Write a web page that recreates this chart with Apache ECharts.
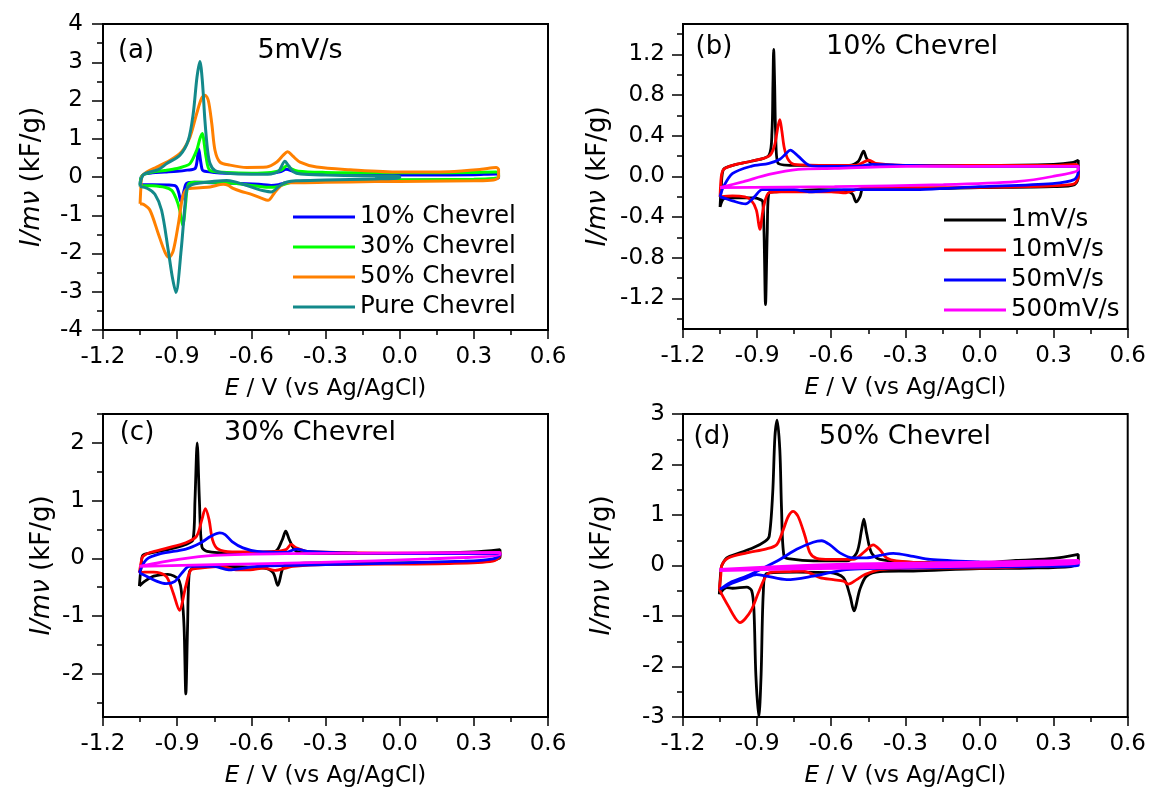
<!DOCTYPE html>
<html><head><meta charset="utf-8">
<script src="https://cdn.jsdelivr.net/npm/echarts@6/dist/echarts.min.js"></script>
<style>html,body{margin:0;padding:0;background:#fff}#c{width:1149px;height:789px}</style>
</head><body><div id="c"></div>
<script>
// ---------- tick labels ----------
const xTicks = [-1.2,-0.9,-0.6,-0.3,0,0.3,0.6];
const yTicksA = [-4,-3,-2,-1,0,1,2,3,4];
const yMinorA = [-3.5,-2.5,-1.5,-0.5,0.5,1.5,2.5,3.5];
const yTicksB = [-1.2,-0.8,-0.4,0,0.4,0.8,1.2];
const yMinorB = [-1.4,-1.0,-0.6,-0.2,0.2,0.6,1.0,1.4];
const yTicksC = [-2,-1,0,1,2];
const yMinorC = [-2.5,-1.5,-0.5,0.5,1.5,2.5];
const yTicksD = [-3,-2,-1,0,1,2,3];
const yMinorD = [-2.5,-1.5,-0.5,0.5,1.5,2.5];

// ---------- categories / legends ----------
const namesA = ['10% Chevrel','30% Chevrel','50% Chevrel','Pure Chevrel'];
const namesRate = ['1mV/s','10mV/s','50mV/s','500mV/s'];

// ---------- panel (a): 5 mV/s, E (V) vs I/mν (kF/g) ----------
const a10 = [[-1.05,-0.2],[-1.045,0.0],[-1.03,0.08],[-1.0,0.11],[-0.95,0.13],[-0.9,0.15],[-0.86,0.18],[-0.828,0.22],[-0.82,0.4],[-0.813,0.74],[-0.806,0.45],[-0.8,0.22],[-0.794,0.16],[-0.75,0.12],[-0.7,0.1],[-0.6,0.09],[-0.52,0.1],[-0.48,0.14],[-0.46,0.2],[-0.43,0.15],[-0.4,0.1],[-0.3,0.07],[-0.1,0.05],[0.1,0.05],[0.3,0.06],[0.39,0.08],[0.4,0.05],
  [0.4,-0.02],[0.38,-0.05],[0.3,-0.07],[0.1,-0.08],[-0.1,-0.09],[-0.3,-0.1],[-0.42,-0.12],[-0.46,-0.15],[-0.49,-0.2],[-0.52,-0.22],[-0.55,-0.2],[-0.65,-0.17],[-0.75,-0.15],[-0.83,-0.14],[-0.862,-0.17],[-0.872,-0.35],[-0.884,-0.66],[-0.894,-0.4],[-0.905,-0.24],[-0.94,-0.21],[-1.0,-0.2],[-1.05,-0.2]];
const a30 = [[-1.05,-0.22],[-1.045,0.0],[-1.03,0.08],[-1.0,0.13],[-0.95,0.17],[-0.9,0.22],[-0.875,0.27],[-0.848,0.35],[-0.821,0.7],[-0.808,1.0],[-0.798,1.14],[-0.79,0.85],[-0.783,0.52],[-0.767,0.17],[-0.7,0.12],[-0.6,0.1],[-0.52,0.12],[-0.48,0.18],[-0.455,0.3],[-0.44,0.22],[-0.41,0.15],[-0.3,0.12],[-0.1,0.11],[0.1,0.11],[0.3,0.12],[0.39,0.13],[0.4,0.1],
  [0.4,0.0],[0.38,-0.04],[0.3,-0.06],[0.1,-0.07],[-0.1,-0.08],[-0.3,-0.1],[-0.42,-0.12],[-0.46,-0.18],[-0.5,-0.26],[-0.53,-0.27],[-0.6,-0.22],[-0.66,-0.17],[-0.75,-0.14],[-0.83,-0.14],[-0.855,-0.2],[-0.866,-0.7],[-0.872,-1.1],[-0.877,-1.27],[-0.883,-1.1],[-0.89,-0.85],[-0.905,-0.55],[-0.922,-0.35],[-0.95,-0.27],[-1.0,-0.23],[-1.05,-0.22]];
const a50 = [[-1.05,-0.7],[-1.047,-0.3],[-1.043,0.0],[-1.023,0.13],[-0.983,0.26],[-0.929,0.44],[-0.882,0.66],[-0.848,1.05],[-0.821,1.66],[-0.801,2.06],[-0.787,2.14],[-0.774,2.0],[-0.76,1.4],[-0.747,0.7],[-0.727,0.39],[-0.686,0.31],[-0.619,0.25],[-0.538,0.26],[-0.497,0.39],[-0.471,0.57],[-0.453,0.66],[-0.433,0.55],[-0.403,0.39],[-0.336,0.26],[-0.2,0.19],[0.0,0.13],[0.2,0.14],[0.33,0.2],[0.39,0.25],[0.4,0.2],
  [0.4,0.0],[0.38,-0.08],[0.3,-0.1],[0.1,-0.11],[-0.1,-0.12],[-0.3,-0.14],[-0.42,-0.15],[-0.461,-0.15],[-0.484,-0.25],[-0.504,-0.39],[-0.533,-0.61],[-0.56,-0.55],[-0.605,-0.44],[-0.64,-0.38],[-0.674,-0.3],[-0.693,-0.22],[-0.713,-0.19],[-0.767,-0.26],[-0.808,-0.28],[-0.85,-0.3],[-0.864,-0.33],[-0.878,-0.52],[-0.895,-1.22],[-0.916,-1.93],[-0.933,-2.1],[-0.949,-1.97],[-0.976,-1.49],[-1.01,-0.87],[-1.035,-0.72],[-1.05,-0.7]];
const aPure = [[-1.05,-0.25],[-1.045,-0.05],[-1.035,0.07],[-1.01,0.13],[-0.975,0.2],[-0.942,0.35],[-0.889,0.57],[-0.855,0.96],[-0.835,1.66],[-0.82,2.6],[-0.808,3.02],[-0.798,2.5],[-0.788,1.5],[-0.777,0.7],[-0.767,0.35],[-0.747,0.17],[-0.7,0.1],[-0.6,0.07],[-0.52,0.08],[-0.49,0.15],[-0.464,0.41],[-0.45,0.3],[-0.43,0.14],[-0.4,0.08],[-0.3,0.05],[-0.15,0.03],[0.0,0.02],
  [0.0,-0.02],[-0.1,-0.05],[-0.3,-0.08],[-0.42,-0.1],[-0.455,-0.13],[-0.484,-0.22],[-0.52,-0.39],[-0.55,-0.36],[-0.578,-0.31],[-0.634,-0.19],[-0.67,-0.12],[-0.7,-0.09],[-0.75,-0.11],[-0.8,-0.15],[-0.84,-0.2],[-0.86,-0.3],[-0.868,-0.7],[-0.884,-1.92],[-0.905,-3.02],[-0.92,-2.6],[-0.936,-1.92],[-0.963,-0.87],[-0.99,-0.45],[-1.02,-0.3],[-1.05,-0.25]];

// ---------- panel (b): 10% Chevrel ----------
const b1 = [[-1.05,-0.3],[-1.045,-0.1],[-1.036,0.07],[-0.999,0.11],[-0.925,0.15],[-0.852,0.21],[-0.84,0.43],[-0.836,0.9],[-0.833,1.25],[-0.829,0.9],[-0.825,0.43],[-0.815,0.13],[-0.734,0.11],[-0.6,0.11],[-0.528,0.11],[-0.49,0.15],[-0.469,0.25],[-0.455,0.17],[-0.425,0.12],[-0.3,0.11],[0.0,0.11],[0.3,0.12],[0.38,0.14],[0.4,0.16],
  [0.4,0.0],[0.385,-0.08],[0.3,-0.1],[0.0,-0.11],[-0.26,-0.12],[-0.4,-0.12],[-0.469,-0.11],[-0.484,-0.2],[-0.499,-0.25],[-0.515,-0.17],[-0.55,-0.14],[-0.65,-0.13],[-0.822,-0.15],[-0.852,-0.16],[-0.859,-0.55],[-0.866,-1.26],[-0.872,-0.55],[-0.877,-0.25],[-0.884,-0.23],[-0.911,-0.21],[-1.0,-0.21],[-1.035,-0.22],[-1.05,-0.3]];
const b10 = [[-1.05,-0.2],[-1.045,0.0],[-1.036,0.07],[-0.999,0.11],[-0.925,0.15],[-0.852,0.2],[-0.83,0.3],[-0.815,0.5],[-0.808,0.56],[-0.8,0.45],[-0.79,0.28],[-0.775,0.17],[-0.75,0.12],[-0.6,0.11],[-0.5,0.11],[-0.447,0.16],[-0.42,0.13],[-0.3,0.11],[0.0,0.11],[0.3,0.11],[0.39,0.12],[0.4,0.1],
  [0.4,0.0],[0.39,-0.06],[0.37,-0.08],[0.2,-0.1],[-0.2,-0.11],[-0.45,-0.11],[-0.5,-0.13],[-0.54,-0.16],[-0.6,-0.15],[-0.65,-0.15],[-0.8,-0.15],[-0.852,-0.16],[-0.874,-0.3],[-0.889,-0.52],[-0.903,-0.33],[-0.925,-0.23],[-0.95,-0.2],[-1.0,-0.19],[-1.05,-0.2]];
const b50 = [[-1.05,-0.2],[-1.036,-0.1],[-0.999,0.03],[-0.925,0.1],[-0.852,0.13],[-0.808,0.17],[-0.785,0.22],[-0.766,0.26],[-0.734,0.2],[-0.69,0.11],[-0.65,0.1],[-0.5,0.1],[-0.43,0.12],[-0.3,0.11],[0.0,0.1],[0.3,0.1],[0.4,0.1],
  [0.4,0.05],[0.384,-0.03],[0.295,-0.07],[0.0,-0.1],[-0.3,-0.13],[-0.45,-0.13],[-0.55,-0.13],[-0.69,-0.15],[-0.75,-0.13],[-0.85,-0.13],[-0.88,-0.13],[-0.911,-0.2],[-0.947,-0.27],[-0.999,-0.24],[-1.036,-0.21],[-1.05,-0.2]];
const b500 = [[-1.05,-0.11],[-0.955,-0.05],[-0.852,0.02],[-0.734,0.07],[-0.587,0.08],[-0.293,0.1],[0.0,0.1],[0.4,0.1],
  [0.4,0.07],[0.295,0.0],[0.149,-0.05],[-0.146,-0.08],[-0.587,-0.1],[-1.05,-0.11]];

// ---------- panel (c): 30% Chevrel ----------
const c1 = [[-1.053,-0.48],[-1.045,-0.1],[-1.039,0.05],[-1.01,0.09],[-0.938,0.15],[-0.865,0.24],[-0.836,0.32],[-0.828,1.0],[-0.819,2.0],[-0.81,1.0],[-0.8,0.2],[-0.779,0.12],[-0.678,0.09],[-0.504,0.12],[-0.475,0.32],[-0.461,0.47],[-0.446,0.32],[-0.418,0.12],[-0.317,0.08],[0.0,0.08],[0.3,0.11],[0.406,0.15],
  [0.406,0.02],[0.333,-0.05],[0.0,-0.08],[-0.317,-0.08],[-0.461,-0.11],[-0.475,-0.2],[-0.493,-0.47],[-0.512,-0.25],[-0.548,-0.17],[-0.75,-0.14],[-0.836,-0.17],[-0.851,-0.25],[-0.858,-1.2],[-0.865,-2.35],[-0.872,-1.2],[-0.88,-0.7],[-0.894,-0.37],[-0.938,-0.28],[-0.995,-0.31],[-1.032,-0.4],[-1.053,-0.48]];
const c10 = [[-1.053,-0.25],[-1.045,-0.05],[-1.039,0.03],[-1.01,0.1],[-0.938,0.18],[-0.865,0.27],[-0.822,0.38],[-0.8,0.67],[-0.786,0.86],[-0.771,0.67],[-0.757,0.32],[-0.735,0.16],[-0.678,0.11],[-0.5,0.12],[-0.46,0.15],[-0.439,0.24],[-0.418,0.18],[-0.374,0.12],[0.0,0.09],[0.3,0.09],[0.406,0.1],
  [0.406,0.05],[0.377,-0.05],[0.2,-0.09],[-0.3,-0.11],[-0.432,-0.14],[-0.461,-0.17],[-0.504,-0.21],[-0.548,-0.17],[-0.605,-0.2],[-0.663,-0.2],[-0.721,-0.14],[-0.808,-0.17],[-0.844,-0.2],[-0.865,-0.48],[-0.891,-0.9],[-0.916,-0.6],[-0.945,-0.31],[-0.995,-0.24],[-1.032,-0.24],[-1.053,-0.25]];
const c50 = [[-1.053,-0.25],[-1.024,-0.02],[-0.967,0.08],[-0.865,0.16],[-0.808,0.26],[-0.764,0.38],[-0.728,0.44],[-0.706,0.41],[-0.678,0.29],[-0.634,0.18],[-0.577,0.12],[-0.461,0.1],[-0.418,0.16],[-0.374,0.12],[-0.172,0.09],[0.262,0.08],[0.406,0.08],
  [0.406,0.06],[0.377,-0.01],[0.262,-0.05],[-0.3,-0.11],[-0.577,-0.14],[-0.692,-0.2],[-0.75,-0.14],[-0.851,-0.14],[-0.88,-0.25],[-0.909,-0.4],[-0.945,-0.44],[-0.981,-0.4],[-1.024,-0.31],[-1.053,-0.25]];
const c500 = [[-1.053,-0.14],[-0.894,-0.02],[-0.75,0.05],[-0.461,0.08],[0.406,0.1],
  [0.406,0.06],[0.117,-0.01],[-0.317,-0.07],[-0.75,-0.11],[-1.053,-0.14]];

// ---------- panel (d): 50% Chevrel ----------
const d1 = [[-1.053,-0.57],[-1.047,-0.1],[-1.043,0.0],[-1.023,0.15],[-0.976,0.24],[-0.916,0.35],[-0.868,0.48],[-0.851,0.58],[-0.837,1.43],[-0.828,2.55],[-0.819,2.88],[-0.808,2.28],[-0.801,1.1],[-0.791,0.18],[-0.767,0.13],[-0.673,0.09],[-0.538,0.09],[-0.497,0.25],[-0.477,0.71],[-0.468,0.92],[-0.457,0.64],[-0.437,0.25],[-0.403,0.12],[-0.268,0.06],[0.0,0.05],[0.147,0.1],[0.3,0.14],[0.4,0.22],
  [0.4,0.05],[0.37,-0.02],[0.2,-0.05],[0.0,-0.06],[-0.268,-0.11],[-0.403,-0.12],[-0.457,-0.21],[-0.484,-0.47],[-0.508,-0.9],[-0.524,-0.6],[-0.551,-0.24],[-0.605,-0.14],[-0.74,-0.13],[-0.862,-0.16],[-0.875,-0.54],[-0.884,-2.18],[-0.893,-3.0],[-0.905,-2.18],[-0.913,-0.87],[-0.922,-0.5],[-0.942,-0.43],[-1.0,-0.45],[-1.023,-0.44],[-1.053,-0.57]];
const d10 = [[-1.053,-0.47],[-1.047,-0.2],[-1.043,0.0],[-1.017,0.15],[-0.942,0.25],[-0.862,0.33],[-0.821,0.41],[-0.794,0.71],[-0.774,0.97],[-0.754,1.07],[-0.734,0.97],[-0.706,0.58],[-0.686,0.25],[-0.659,0.14],[-0.605,0.12],[-0.511,0.12],[-0.464,0.28],[-0.43,0.41],[-0.403,0.31],[-0.376,0.15],[-0.336,0.09],[-0.2,0.05],[0.0,0.05],[0.2,0.05],[0.35,0.06],[0.4,0.08],
  [0.4,0.06],[0.35,0.01],[0.2,-0.02],[0.0,-0.05],[-0.2,-0.05],[-0.403,-0.08],[-0.464,-0.18],[-0.497,-0.28],[-0.531,-0.37],[-0.55,-0.31],[-0.592,-0.28],[-0.646,-0.24],[-0.686,-0.15],[-0.713,-0.11],[-0.767,-0.12],[-0.848,-0.14],[-0.868,-0.24],[-0.895,-0.54],[-0.922,-0.87],[-0.949,-1.06],[-0.969,-1.13],[-0.99,-1.03],[-1.017,-0.8],[-1.043,-0.57],[-1.053,-0.47]];
const d50 = [[-1.05,-0.47],[-1.01,-0.34],[-0.942,-0.21],[-0.875,-0.05],[-0.808,0.12],[-0.74,0.32],[-0.673,0.46],[-0.639,0.49],[-0.605,0.41],[-0.565,0.25],[-0.511,0.15],[-0.457,0.15],[-0.403,0.2],[-0.349,0.24],[-0.268,0.18],[-0.2,0.12],[0.0,0.07],[0.2,0.04],[0.4,0.02],
  [0.4,0.0],[0.2,-0.02],[0.0,-0.03],[-0.3,-0.05],[-0.45,-0.06],[-0.538,-0.08],[-0.605,-0.14],[-0.673,-0.21],[-0.78,-0.28],[-0.862,-0.21],[-0.902,-0.18],[-0.95,-0.26],[-1.01,-0.37],[-1.05,-0.47]];
const d500 = [[-1.053,-0.09],[-0.8,-0.03],[-0.5,0.02],[-0.2,0.04],[0.4,0.09],
  [0.4,0.06],[0.0,0.0],[-0.5,-0.04],[-0.8,-0.06],[-1.053,-0.09]];

// ---------- styling ----------
const F = 'DejaVu Sans';
const colA = ['#0000ff','#00ff00','#ff8000','#13898a'];
const colR = ['#000000','#ff0000','#0000ff','#ff00ff'];
const grids = [
  {left:103, top:24, width:445, height:306},
  {left:683, top:24, width:445, height:305},
  {left:103, top:414, width:445, height:304},
  {left:683, top:414, width:445, height:304}
].map(g => Object.assign(g, {show:true, borderColor:'#000', borderWidth:2, backgroundColor:'transparent'}));

const tickLine = {color:'#000', width:1.5};
function xAx(g){
  return {type:'value', gridIndex:g, min:-1.2, max:0.6, interval:0.3, position:'bottom',
    name:'{i|E} / V (vs Ag/AgCl)', nameLocation:'middle', nameGap:48,
    nameTextStyle:{fontFamily:F, fontSize:23, color:'#000', rich:{i:{fontFamily:F, fontSize:23, fontStyle:'italic', color:'#000'}}},
    axisLine:{show:true, onZero:false, lineStyle:{color:'#000', width:2}},
    axisTick:{show:true, inside:false, length:9, lineStyle:tickLine},
    minorTick:{show:true, splitNumber:2, length:5, lineStyle:tickLine},
    axisLabel:{formatter:v => v.toFixed(1), fontFamily:F, fontSize:23, color:'#000', margin:16, showMaxLabel:true, showMinLabel:true},
    splitLine:{show:false}, minorSplitLine:{show:false}};
}
function yAx(g, min, max, ticks, dec, gap, lm){
  return {type:'value', gridIndex:g, min, max, position:'left',
    name:'{i|I/mν} (kF/g)', nameLocation:'middle', nameGap:gap, nameRotate:90,
    nameTextStyle:{fontFamily:F, fontSize:26, color:'#000', rich:{i:{fontFamily:F, fontSize:26, fontStyle:'italic', color:'#000'}}},
    axisLine:{show:true, onZero:false, lineStyle:{color:'#000', width:2}},
    axisTick:{show:true, inside:false, length:11, customValues:ticks, lineStyle:tickLine},
    axisLabel:{customValues:ticks, formatter:v => v.toFixed(dec), fontFamily:F, fontSize:23, color:'#000', margin:lm},
    splitLine:{show:false}};
}
function yMin(g, min, max, vals){
  return {type:'value', gridIndex:g, min, max, position:'left', offset:0,
    axisLine:{show:false, onZero:false}, axisTick:{show:true, inside:false, length:6, customValues:vals, lineStyle:tickLine},
    axisLabel:{show:false}, splitLine:{show:false}};
}
function S(name, data, g, color, w){
  return {type:'line', name, data, xAxisIndex:g, yAxisIndex:g, color, symbol:'none', showSymbol:false,
    smooth:0.3, clip:true, lineStyle:{color, width:w}, emphasis:{disabled:true}};
}
const legendBase = {orient:'vertical', itemWidth:62, itemHeight:3, icon:'rect', itemGap:0, padding:0,
  selectedMode:false, textStyle:{fontFamily:F, fontSize:24.5, color:'#000', lineHeight:30}};
function T(text, x, y, size){
  return {type:'text', x, y, style:{text, fill:'#000', fontFamily:F, fontSize:size, align:'center', verticalAlign:'middle', textAlign:'center', textVerticalAlign:'middle'}};
}

const option = {
  animation:false,
  backgroundColor:'#fff',
  grid: grids,
  xAxis:[xAx(0), xAx(1), xAx(2), xAx(3)],
  yAxis:[
    yAx(0,-4,4,yTicksA,0,58,20), yAx(1,-1.5,1.5,yTicksB,1,72,18), yAx(2,-2.75,2.5,yTicksC,0,48,18), yAx(3,-3,3,yTicksD,0,68,18),
    yMin(0,-4,4,yMinorA), yMin(1,-1.5,1.5,yMinorB), yMin(2,-2.75,2.5,yMinorC), yMin(3,-3,3,yMinorD)
  ],
  legend:[
    Object.assign({data:namesA, left:293, top:202}, legendBase),
    Object.assign({data:namesRate, left:944, top:205}, legendBase)
  ],
  graphic:[
    T('(a)',136,51,26), T('5mV/s',300,51,27),
    T('(b)',714,47,26), T('10% Chevrel',912,47,27),
    T('(c)',137,433,26), T('30% Chevrel',310,433,27),
    T('(d)',712,437,26), T('50% Chevrel',905,437,27)
  ],
  series:[
    S(namesA[0], a10, 0, colA[0], 3), S(namesA[1], a30, 0, colA[1], 3),
    S(namesA[2], a50, 0, colA[2], 3), S(namesA[3], aPure, 0, colA[3], 3),
    S(namesRate[0], b1, 1, colR[0], 2.8), S(namesRate[1], b10, 1, colR[1], 2.8),
    S(namesRate[2], b50, 1, colR[2], 2.8), S(namesRate[3], b500, 1, colR[3], 2.8),
    S(namesRate[0], c1, 2, colR[0], 2.8), S(namesRate[1], c10, 2, colR[1], 2.8),
    S(namesRate[2], c50, 2, colR[2], 2.8), S(namesRate[3], c500, 2, colR[3], 2.8),
    S(namesRate[0], d1, 3, colR[0], 2.8), S(namesRate[1], d10, 3, colR[1], 2.8),
    S(namesRate[2], d50, 3, colR[2], 2.8), S(namesRate[3], d500, 3, colR[3], 4)
  ]
};
const chart = echarts.init(document.getElementById('c'), null, {renderer:'canvas'});
chart.setOption(option);
</script>
</body></html>
